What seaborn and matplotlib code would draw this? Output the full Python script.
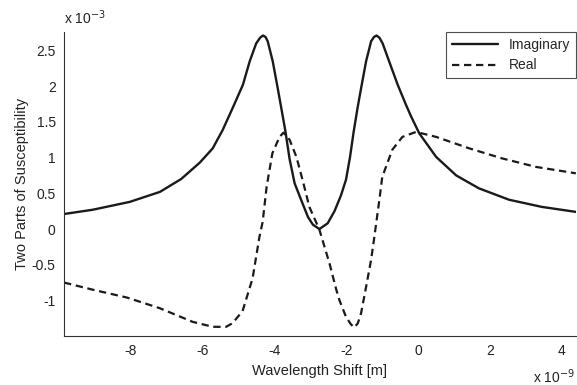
import numpy as np
import pandas as pd
import matplotlib
matplotlib.use("Agg")
import matplotlib.pyplot as plt
import seaborn as sns

# wavelength shift (x 1e-9 m) and susceptibility (x 1e-3)
imag_x = [-9.86, -9.06, -8.03, -7.19, -6.60, -6.08, -5.72, -5.44, -5.17, -4.88,
          -4.69, -4.51, -4.40, -4.32, -4.25, -4.19, -4.05, -3.91, -3.81, -3.70,
          -3.58, -3.44, -3.26, -3.07, -2.93, -2.75, -2.52, -2.33, -2.15, -2.01,
          -1.90, -1.80, -1.69, -1.59, -1.45, -1.31, -1.23, -1.16, -1.08, -0.99,
          -0.81, -0.57, -0.34, -0.20, 0.03, 0.50, 1.06, 1.69, 2.53, 3.44, 4.39]
imag_y = [0.21, 0.27, 0.38, 0.52, 0.70, 0.93, 1.13, 1.39, 1.69, 2.02,
          2.35, 2.60, 2.68, 2.71, 2.69, 2.63, 2.35, 1.97, 1.69, 1.38,
          0.98, 0.64, 0.41, 0.17, 0.06, 0.00, 0.08, 0.25, 0.47, 0.69,
          1.00, 1.35, 1.69, 1.97, 2.35, 2.63, 2.69, 2.71, 2.68, 2.60,
          2.35, 2.02, 1.74, 1.58, 1.34, 1.01, 0.75, 0.57, 0.41, 0.31, 0.24]

real_x = [-9.86, -9.06, -8.11, -7.19, -6.28, -5.72, -5.35, -5.17, -4.89, -4.61,
          -4.42, -4.33, -4.22, -4.06, -3.86, -3.75, -3.58, -3.39, -3.22, -3.03,
          -2.75, -2.47, -2.28, -2.19, -2.01, -1.88, -1.78, -1.68, -1.59, -1.45,
          -1.31, -1.22, -1.08, -1.00, -0.72, -0.44, -0.06, 0.50, 1.42, 2.33,
          3.28, 4.39]
real_y = [-0.75, -0.85, -0.96, -1.11, -1.30, -1.37, -1.37, -1.32, -1.15, -0.69,
          -0.11, 0.10, 0.59, 1.06, 1.29, 1.35, 1.25, 1.01, 0.69, 0.31,
          -0.01, -0.48, -0.85, -1.00, -1.23, -1.33, -1.38, -1.32, -1.18, -0.81,
          -0.43, -0.11, 0.41, 0.73, 1.11, 1.29, 1.36, 1.29, 1.13, 0.99,
          0.87, 0.78]

xticks = [-8, -6, -4, -2, 0, 2, 4]
yticks = [-1, -0.5, 0, 0.5, 1, 1.5, 2, 2.5]
ytick_labels = ["-1", "-0.5", "0", "0.5", "1", "1.5", "2", "2.5"]

sns.set_style("white")
plt.rcParams['font.family'] = ['Liberation Sans', 'DejaVu Sans']
plt.rcParams['axes.unicode_minus'] = False
plt.rcParams['font.size'] = 10

fig = plt.figure(figsize=(5.77, 3.85), dpi=100)
ax = fig.add_axes([0.111, 0.127, 0.887, 0.790])

df_imag = pd.DataFrame({"x": imag_x, "y": imag_y})
df_real = pd.DataFrame({"x": real_x, "y": real_y})

sns.lineplot(data=df_imag, x="x", y="y", ax=ax, color="#1a1a1a", linewidth=1.7,
             label="Imaginary")
sns.lineplot(data=df_real, x="x", y="y", ax=ax, color="#1a1a1a", linewidth=1.6,
             label="Real", dashes=False)
ax.lines[1].set_dashes([3.3, 2.1])
for ln in ax.lines:
    ln.set_solid_joinstyle("round")
    ln.set_dash_joinstyle("round")

ax.set_xlim(-9.86, 4.39)
ax.set_ylim(-1.5, 2.76)
ax.set_xticks(xticks)
ax.set_xticklabels([str(t) for t in xticks])
ax.set_yticks(yticks)
ax.set_yticklabels(ytick_labels)

for s in ["top", "right"]:
    ax.spines[s].set_visible(False)
for s in ["left", "bottom"]:
    ax.spines[s].set_color("#333333")
    ax.spines[s].set_linewidth(0.8)
ax.tick_params(direction="in", length=4, width=0.8, color="#333333",
               labelsize=10, labelcolor="#222222", pad=6)

ax.set_xlabel("Wavelength Shift [m]", fontsize=10.5, color="#222222", labelpad=4)
ax.set_ylabel("Two Parts of Susceptibility", fontsize=10.5, color="#222222", labelpad=2)

fig.text(0.111, 0.955, "x 10$^{-3}$", fontsize=10, color="#222222", va="center")
fig.text(0.997, 0.022, "x 10$^{-9}$", fontsize=10, color="#222222", va="center",
         ha="right")

leg = ax.legend(loc="upper right", frameon=True, fancybox=False, handlelength=3.3,
                borderaxespad=0, fontsize=10, labelspacing=0.5)
leg.get_frame().set_edgecolor("#222222")
leg.get_frame().set_linewidth(0.8)

fig.savefig("out.png", dpi=100)
